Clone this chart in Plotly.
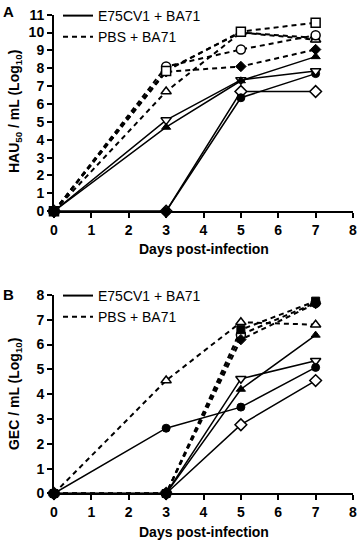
import plotly.graph_objects as go

days = [0, 3, 5, 7]

# Panel A: HAU50 / mL (Log10)
a_e_tri_up = [0, 4.7, 7.3, 8.65]
a_e_tri_down = [0, 5.1, 7.35, 7.85]
a_e_circle = [0, 0, 6.35, 7.7]
a_e_diamond = [0, 0, 6.7, 6.7]
a_p_sq_fill = [0, 7.9, 10.0, 9.7]
a_p_square = [0, 7.85, 10.05, 10.55]
a_p_triangle = [0, 6.7, 10.0, 9.6]
a_p_circle = [0, 8.1, 9.05, 9.85]
a_p_diamond = [0, 7.8, 8.1, 9.05]

# Panel B: GEC / mL (Log10)
b_e_circle = [0, 2.63, 3.48, 5.08]
b_e_diamond = [0, 0, 2.77, 4.55]
b_e_tri_down = [0, 0, 4.62, 5.35]
b_e_tri_up = [0, 0, 4.2, 6.38]
b_p_triangle = [0, 4.55, 6.9, 6.8]
b_p_circle = [0, 0, 6.4, 7.68]
b_p_diamond = [0, 0, 6.2, 7.65]
b_p_square = [0, 0, 6.6, 7.75]

group_names = ["E75CV1 + BA71", "PBS + BA71"]
x_ticks = list(range(0, 9))
a_ticks = list(range(0, 12))
b_ticks = list(range(0, 9))

FONT = "Liberation Sans, Arial, sans-serif"
DASH = "5px,4px"

fig = go.Figure()


def add(y, symbol, filled, dashed, axis):
    xa, ya = ("x", "y") if axis == 1 else ("x2", "y2")
    if filled:
        marker = dict(symbol=symbol, size=8, color="black", line=dict(color="black", width=1))
    else:
        marker = dict(symbol=symbol, size=9, color="white", line=dict(color="black", width=1.5))
    fig.add_trace(go.Scatter(
        x=days, y=y, mode="lines+markers", xaxis=xa, yaxis=ya,
        line=dict(color="black", width=2 if dashed else 1.5, dash=DASH if dashed else "solid"),
        marker=marker, cliponaxis=False, showlegend=False, hoverinfo="skip"))


# Panel A
add(a_p_sq_fill, "square", True, True, 1)
add(a_p_triangle, "triangle-up", False, True, 1)
add(a_p_circle, "circle", False, True, 1)
add(a_p_diamond, "diamond", True, True, 1)
add(a_p_square, "square", False, True, 1)
add(a_e_diamond, "diamond", False, False, 1)
add(a_e_circle, "circle", True, False, 1)
add(a_e_tri_down, "triangle-down", False, False, 1)
add(a_e_tri_up, "triangle-up", True, False, 1)
# day-0 baseline marker shared by all animals
fig.add_trace(go.Scatter(x=[days[0]], y=[a_p_sq_fill[0]], mode="markers", xaxis="x", yaxis="y",
                         marker=dict(symbol="square", size=9, color="black"),
                         cliponaxis=False, showlegend=False, hoverinfo="skip"))

# Panel B
add(b_p_triangle, "triangle-up", False, True, 2)
add(b_p_circle, "circle", False, True, 2)
add(b_p_diamond, "diamond", True, True, 2)
add(b_e_diamond, "diamond", False, False, 2)
add(b_e_tri_down, "triangle-down", False, False, 2)
add(b_e_tri_up, "triangle-up", True, False, 2)
add(b_e_circle, "circle", True, False, 2)
add(b_p_square, "square", True, True, 2)

# legend entries
for lg, xa, ya in (("legend", "x", "y"), ("legend2", "x2", "y2")):
    for name, dashed in zip(group_names, (False, True)):
        fig.add_trace(go.Scatter(x=[None], y=[None], mode="lines", name=name, xaxis=xa, yaxis=ya,
                                 legend=lg,
                                 line=dict(color="black", width=2, dash=DASH if dashed else "solid")))

W, H = 359, 543
x0, x1 = 54 / W, 353 / W
axis_common = dict(showline=True, linecolor="black", linewidth=2, ticks="outside", ticklen=5,
                   tickwidth=2, tickcolor="black", showgrid=False, zeroline=False,
                   tickfont=dict(family=FONT, size=14, color="black", weight="bold"),
                   automargin=False)

fig.update_layout(
    width=W, height=H, margin=dict(l=0, r=0, t=0, b=0),
    paper_bgcolor="white", plot_bgcolor="white",
    font=dict(family=FONT, color="black"),
    xaxis=dict(domain=[x0, x1], range=[0, 8], tickvals=x_ticks, anchor="y", **axis_common),
    yaxis=dict(domain=[1 - 210 / H, 1 - 12.7 / H], range=[0, 11], tickvals=a_ticks, anchor="x", **axis_common),
    xaxis2=dict(domain=[x0, x1], range=[0, 8], tickvals=x_ticks, anchor="y2", **axis_common),
    yaxis2=dict(domain=[1 - 493.3 / H, 1 - 294 / H], range=[0, 8], tickvals=b_ticks, anchor="x2", **axis_common),
    legend=dict(x=58 / W, y=1 + 2 / H, xanchor="left", yanchor="top", bgcolor="rgba(0,0,0,0)",
                font=dict(family=FONT, size=14, color="black"), tracegroupgap=0),
    legend2=dict(x=58 / W, y=1 - 279 / H, xanchor="left", yanchor="top", bgcolor="rgba(0,0,0,0)",
                 font=dict(family=FONT, size=14, color="black"), tracegroupgap=0),
)

title_font = dict(family=FONT, size=14, color="black", weight="bold")
ann = [
    dict(text="A", x=8 / W, y=1 - 10 / H, font=dict(family=FONT, size=15, color="black", weight="bold")),
    dict(text="B", x=8 / W, y=1 - 294 / H, font=dict(family=FONT, size=15, color="black", weight="bold")),
    dict(text="Days post-infection", x=(x0 + x1) / 2, y=1 - 248 / H, font=title_font),
    dict(text="Days post-infection", x=(x0 + x1) / 2, y=1 - 531.5 / H, font=title_font),
    dict(text="HAU<sub>50</sub> / mL (Log<sub>10</sub>)", x=14.5 / W, y=1 - 110 / H, textangle=-90, font=title_font),
    dict(text="GEC / mL (Log<sub>10</sub>)", x=14.5 / W, y=1 - 393 / H, textangle=-90, font=title_font),
]
for a in ann:
    a.update(xref="paper", yref="paper", showarrow=False, xanchor="center", yanchor="middle")
    fig.add_annotation(**a)

fig.write_html("out.html", config={"displayModeBar": False},
               post_script="document.body.style.margin='0';document.body.style.overflow='hidden';")
